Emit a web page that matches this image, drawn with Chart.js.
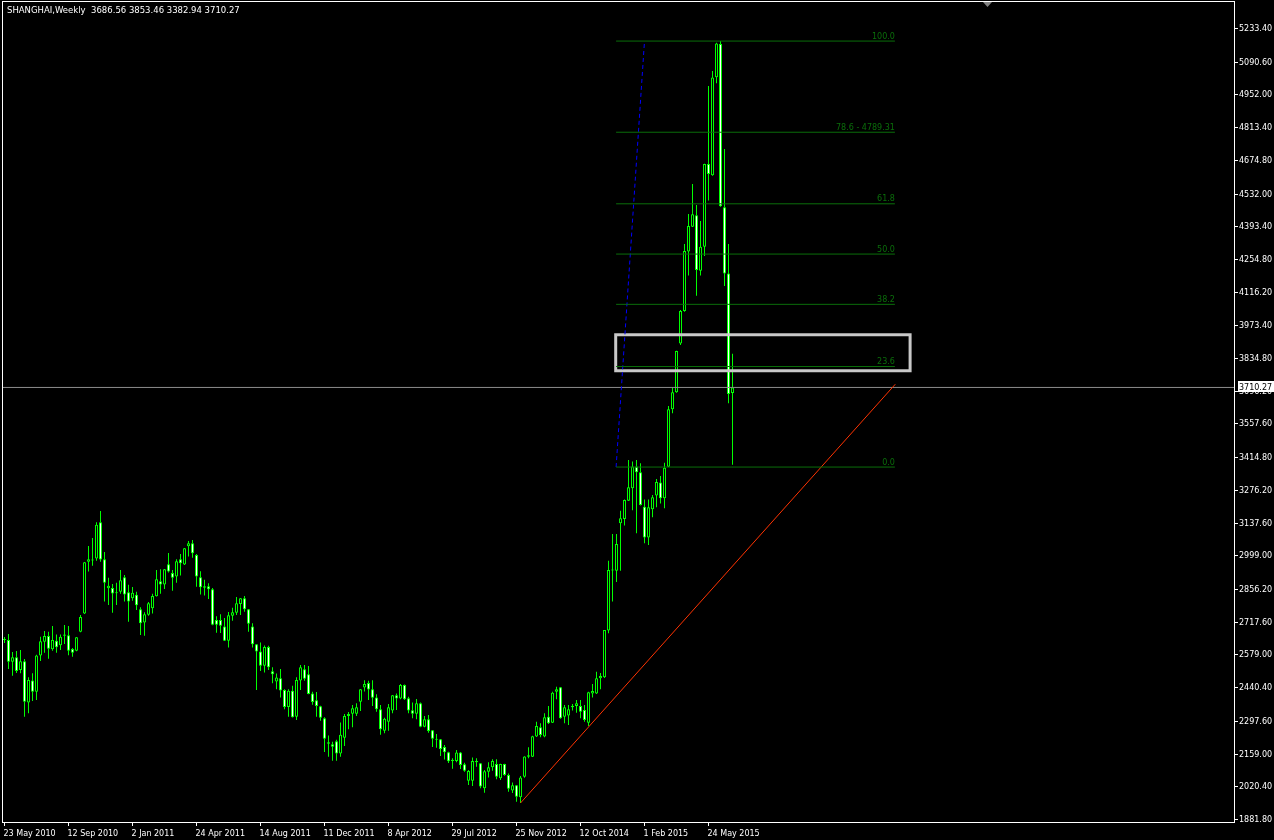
<!DOCTYPE html>
<html>
<head>
<meta charset="utf-8">
<script src="https://cdn.jsdelivr.net/npm/chart.js@4.4.1/dist/chart.umd.min.js"></script>
<style>
html, body { margin: 0; padding: 0; background: #000; }
canvas { display: block; }
</style>
</head>
<body>
<canvas id="priceChart" width="1274" height="840"></canvas>
<script>
// weekly bars, oldest first
const opens = [
    2641,2640,2548,2567,2513,2550,2375,2469,2421,2575,
    2633,2657,2601,2637,2618,2664,2660,2602,2595,2675,
    2752,2972,2980,2985,3139,2982,2859,2860,2838,2845,
    2906,2843,2817,2832,2770,2714,2747,2775,2826,2889,
    2875,2961,2924,2909,2982,2960,3037,3050,3000,2906,
    2868,2868,2855,2725,2725,2697,2637,2743,2756,2793,
    2817,2770,2697,2622,2591,2531,2610,2508,2464,2478,
    2428,2356,2425,2315,2469,2516,2495,2414,2385,2359,
    2309,2207,2198,2211,2159,2226,2318,2328,2328,2379,
    2439,2458,2432,2397,2347,2256,2294,2341,2406,2392,
    2450,2393,2342,2328,2372,2273,2304,2258,2221,2220,
    2187,2165,2133,2128,2164,2114,2044,2044,2128,2118,
    2012,2082,2101,2115,2054,2115,2068,2002,2025,1974,
    2061,2146,2146,2231,2271,2231,2315,2290,2421,2440,
    2315,2320,2355,2361,2361,2344,2290,2414,2414,2478,
    2482,2680,2937,2934,3135,3153,3230,3283,3375,3351,
    3205,3075,3194,3252,3308,3241,3374,3618,3690,3897,
    4034,4286,4391,4440,4205,4307,4657,4609,5025,5166,
    4474,4193,3686.56
];
const highs = [
    2653,2666,2589,2594,2598,2560,2482,2499,2578,2654,
    2678,2675,2700,2664,2664,2704,2700,2606,2653,2746,
    2971,3039,3072,3139,3187,3013,2904,2878,2883,2937,
    2916,2874,2865,2845,2779,2758,2801,2836,2937,2940,
    2941,3009,2937,2982,3005,3030,3060,3064,3005,2932,
    2895,2881,2860,2741,2749,2733,2759,2777,2822,2818,
    2827,2772,2711,2623,2630,2617,2616,2525,2498,2517,
    2432,2432,2446,2482,2534,2534,2530,2421,2420,2362,
    2313,2235,2209,2217,2291,2327,2335,2365,2372,2433,
    2470,2467,2470,2410,2365,2311,2369,2407,2414,2454,
    2452,2400,2375,2390,2375,2318,2322,2259,2242,2221,
    2195,2167,2139,2174,2166,2120,2089,2142,2139,2119,
    2089,2122,2135,2135,2116,2116,2075,2036,2026,2064,
    2148,2186,2234,2294,2287,2330,2361,2421,2442,2441,
    2365,2365,2369,2386,2386,2365,2421,2454,2506,2500,
    2683,2976,3089,3089,3188,3236,3403,3397,3403,3389,
    3236,3236,3255,3322,3335,3391,3632,3711,3866,4038,
    4318,4445,4572,4483,4416,4658,4988,5051,5171,5178,
    4721,4318,3853.46
];
const lows = [
    2628,2517,2489,2500,2499,2315,2330,2382,2386,2551,
    2586,2561,2595,2586,2598,2623,2576,2569,2593,2673,
    2750,2930,2955,2976,2972,2803,2789,2756,2789,2836,
    2803,2718,2807,2767,2661,2658,2743,2753,2824,2836,
    2856,2926,2849,2883,2913,2958,2994,2989,2866,2833,
    2829,2814,2703,2671,2670,2636,2608,2722,2746,2746,
    2760,2675,2608,2428,2509,2502,2513,2457,2431,2397,
    2347,2315,2312,2301,2428,2468,2410,2366,2315,2298,
    2166,2146,2129,2129,2145,2191,2262,2271,2318,2339,
    2422,2386,2361,2336,2239,2245,2256,2330,2344,2389,
    2386,2330,2309,2304,2271,2270,2247,2187,2184,2149,
    2134,2119,2095,2122,2094,2082,2026,2022,2103,2012,
    1993,2058,2086,2050,2047,2065,1997,1992,1955,1949.46,
    2057,2139,2144,2229,2228,2228,2284,2288,2389,2307,
    2287,2280,2341,2332,2309,2294,2276,2397,2411,2432,
    2479,2669,2803,2886,2934,3125,3229,3190,3092,3210,
    3050,3043,3160,3203,3219,3198,3373,3601,3688,3890,
    4031,4185,4390,4099,4185,4267,4502,4607,4999,4476,
    4140,3643,3382.94
];
const closes = [
    2640,2548,2567,2509,2550,2379,2471,2421,2574,2635,
    2657,2603,2640,2609,2654,2658,2595,2586,2652,2738,
    2970,2982,2977,3128,2981,2883,2870,2837,2841,2893,
    2833,2803,2840,2787,2711,2749,2796,2827,2898,2875,
    2940,2930,2904,2974,2965,3029,3050,3008,2909,2864,
    2862,2855,2705,2705,2701,2637,2745,2758,2796,2817,
    2770,2709,2622,2591,2531,2610,2525,2495,2481,2426,
    2356,2425,2313,2471,2525,2476,2411,2378,2361,2311,
    2222,2201,2188,2159,2239,2318,2327,2351,2355,2432,
    2454,2430,2396,2347,2262,2306,2355,2406,2392,2450,
    2389,2341,2328,2372,2273,2304,2255,2222,2217,2178,
    2165,2126,2128,2164,2111,2086,2085,2128,2122,2019,
    2084,2101,2128,2061,2115,2068,2010,2025,1976,2058,
    2147,2152,2232,2276,2238,2313,2287,2417,2431,2309,
    2355,2347,2361,2372,2336,2301,2419,2424,2478,2488,
    2683,2937,2935,3047,3156,3233,3287,3375,3351,3212,
    3075,3203,3245,3310,3241,3370,3618,3690,3865,4034,
    4289,4394,4444,4208,4307,4657,4615,5024,5168,4478,
    4193,3683,3710.27
];

// one date label every 16 bars
const dateLabels = ['23 May 2010', '12 Sep 2010', '2 Jan 2011', '24 Apr 2011', '14 Aug 2011',
    '11 Dec 2011', '8 Apr 2012', '29 Jul 2012', '25 Nov 2012', '12 Oct 2014', '1 Feb 2015', '24 May 2015'];
const priceTicks = [5233.40, 5090.60, 4952.00, 4813.40, 4674.80, 4532.00, 4393.40, 4254.80, 4116.20,
    3973.40, 3834.80, 3696.20, 3557.60, 3414.80, 3276.20, 3137.60, 2999.00, 2856.20, 2717.60,
    2579.00, 2440.40, 2297.60, 2159.00, 2020.40, 1881.80];

// fibonacci retracement (bar position, price)
const fibLevels = [100, 78.6, 61.8, 50, 38.2, 23.6, 0];
const fibTexts = ['100.0', '78.6 - 4789.31', '61.8', '50.0', '38.2', '23.6', '0.0'];
const fibFrom = [152.9, 3373];
const fibTo = [160.0, 5178];
const fibRightBar = 222.6;

// trend line and rectangle (bar position, price)
const trendFrom = [129, 1949.46];
const trendTo = [222.7, 3724];
const boxBars = [152.8, 226.4];
const boxPrices = [3780.9, 3933.4];

const lastPrice = 3710.27;
const titleText = 'SHANGHAI,Weekly  3686.56 3853.46 3382.94 3710.27';

const X_MIN = -0.625, X_MAX = 307.375;
const FIB_COLOR = '#0a6e0a';
const FONT = '"DejaVu Sans", sans-serif';

const fibPrice = lvl => fibFrom[1] + lvl / 100 * (fibTo[1] - fibFrom[1]);

function segment(points, color, extra) {
    return Object.assign({
        type: 'line',
        data: points.map(p => ({x: p[0], y: p[1]})),
        borderColor: color,
        borderWidth: 1,
        pointRadius: 0,
        fill: false,
        tension: 0,
        order: 0
    }, extra || {});
}

const bars = opens.map((_, i) => i);

const datasets = [
    {
        label: 'bodies',
        data: bars.map(i => ({x: i, y: [opens[i], closes[i]]})),
        backgroundColor: bars.map(i => closes[i] < opens[i] ? '#ffffff' : '#000000'),
        borderColor: '#00ff00',
        borderWidth: 1,
        borderSkipped: false,
        barThickness: 3,
        minBarLength: 1,
        inflateAmount: 0,
        grouped: false,
        order: 2
    },
    {
        label: 'wicks',
        data: bars.map(i => ({x: i, y: [lows[i], highs[i]]})),
        backgroundColor: '#00ff00',
        borderWidth: 0,
        barThickness: 1,
        minBarLength: 1,
        inflateAmount: 0,
        grouped: false,
        order: 3
    }
];

fibLevels.forEach(lvl => {
    const p = fibPrice(lvl);
    datasets.push(segment([[fibFrom[0], p], [fibRightBar, p]], FIB_COLOR));
});
datasets.push(segment([fibFrom, fibTo], '#0000ff', {borderDash: [4, 3]}));
datasets.push(segment([trendFrom, trendTo], '#ff3300'));
datasets.push(segment([
    [boxBars[0], boxPrices[1]], [boxBars[1], boxPrices[1]],
    [boxBars[1], boxPrices[0]], [boxBars[0], boxPrices[0]],
    [boxBars[0], boxPrices[1]]
], '#c8c8c8', {borderWidth: 3, borderCapStyle: 'square', borderJoinStyle: 'miter'}));
datasets.push(segment([[X_MIN, lastPrice], [X_MAX, lastPrice]], '#8c8c8c'));

const terminal = {
    id: 'terminal',
    beforeDraw(chart) {
        const c = chart.ctx;
        c.save();
        c.fillStyle = '#000';
        c.fillRect(0, 0, chart.width, chart.height);
        c.restore();
    },
    afterDraw(chart) {
        const c = chart.ctx, a = chart.chartArea;
        const xs = chart.scales.x, ys = chart.scales.y;
        c.save();
        c.strokeStyle = '#ffffff';
        c.lineWidth = 1;
        c.strokeRect(a.left + 0.5, a.top + 0.5, a.right - a.left, a.bottom - a.top);

        // price axis
        c.font = '8px ' + FONT;
        c.fillStyle = '#ffffff';
        c.textAlign = 'left';
        c.textBaseline = 'alphabetic';
        priceTicks.forEach(v => {
            const y = Math.round(ys.getPixelForValue(v));
            c.beginPath();
            c.moveTo(a.right + 1, y + 0.5);
            c.lineTo(a.right + 4, y + 0.5);
            c.stroke();
            c.fillText(v.toFixed(2), a.right + 5, y + 3);
        });

        // time axis
        dateLabels.forEach((t, k) => {
            const x = Math.floor(xs.getPixelForValue(k * 16)) + 0.5;
            c.beginPath();
            c.moveTo(x, a.bottom + 1);
            c.lineTo(x, a.bottom + 4);
            c.stroke();
            c.fillText(t, x - 1, a.bottom + 13.5);
        });

        // current price label, centred on the bid line
        const py = Math.round(ys.getPixelForValue(lastPrice));
        c.fillStyle = '#ffffff';
        c.fillRect(a.right + 4, py - 6, 36, 11);
        c.fillStyle = '#000000';
        c.fillText(lastPrice.toFixed(2), a.right + 5, py + 3);

        // fibo level captions
        c.fillStyle = FIB_COLOR;
        c.textAlign = 'right';
        const fx = xs.getPixelForValue(fibRightBar);
        fibLevels.forEach((lvl, k) => {
            c.fillText(fibTexts[k], fx, ys.getPixelForValue(fibPrice(lvl)) - 2.5);
        });

        // title
        c.font = '8.5px ' + FONT;
        c.fillStyle = '#ffffff';
        c.textAlign = 'left';
        c.fillText(titleText, 7, 12.5);

        // chart shift marker
        c.fillStyle = '#808080';
        c.beginPath();
        c.moveTo(983, 2);
        c.lineTo(992, 2);
        c.lineTo(987.5, 7);
        c.closePath();
        c.fill();
        c.restore();
    }
};

new Chart(document.getElementById('priceChart'), {
    type: 'bar',
    data: {datasets: datasets},
    options: {
        responsive: false,
        animation: false,
        events: [],
        devicePixelRatio: 1,
        layout: {padding: {left: 2, top: 1, right: 0, bottom: 0}},
        scales: {
            x: {
                type: 'linear',
                min: X_MIN,
                max: X_MAX,
                offset: false,
                grid: {display: false, drawTicks: false},
                border: {display: false},
                ticks: {display: false},
                afterFit: s => { s.height = 18; }
            },
            y: {
                type: 'linear',
                position: 'right',
                min: 1869.0,
                max: 5347.8,
                grid: {display: false, drawTicks: false},
                border: {display: false},
                ticks: {display: false},
                afterFit: s => { s.width = 40; }
            }
        },
        plugins: {
            legend: {display: false},
            tooltip: {enabled: false}
        }
    },
    plugins: [terminal]
});
</script>
</body>
</html>
